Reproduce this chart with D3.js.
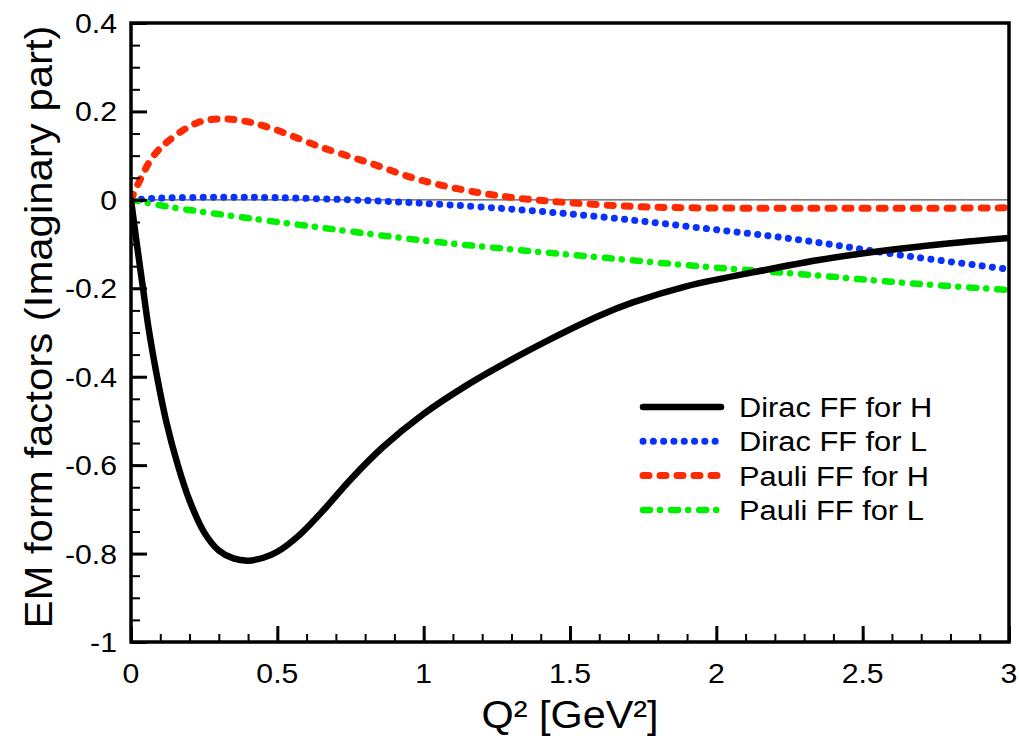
<!DOCTYPE html>
<html>
<head>
<meta charset="utf-8">
<script src="https://cdn.jsdelivr.net/npm/d3@7"></script>
<style>
  body { margin: 0; background: #fff; }
  text { font-family: "Liberation Sans", Arial, Helvetica, sans-serif; fill: #000; }
</style>
</head>
<body>
<svg id="chart" width="1019" height="739"></svg>
<script>
// values
var qDiracH = [0, 0.01, 0.02, 0.041, 0.06, 0.089, 0.12, 0.16, 0.2, 0.25, 0.30, 0.35, 0.40, 0.45, 0.50, 0.577, 0.663, 0.748, 0.861, 1.0, 1.148, 1.26, 1.43, 1.6, 1.715, 1.9, 2.125, 2.35, 2.57, 2.8, 3.0];
var diracH  = [0, -0.05, -0.10, -0.2, -0.29, -0.4, -0.5, -0.6, -0.68, -0.752, -0.793, -0.811, -0.816, -0.810, -0.796, -0.757, -0.698, -0.634, -0.559, -0.484, -0.419, -0.376, -0.316, -0.262, -0.232, -0.195, -0.164, -0.136, -0.115, -0.098, -0.086];

var qDiracL = [0, 0.1, 0.3, 0.5, 0.75, 0.919, 1.26, 1.6, 1.94, 2.29, 2.63, 3.0];
var diracL  = [0, 0.004, 0.006, 0.005, 0.0, -0.005, -0.019, -0.038, -0.063, -0.091, -0.125, -0.157];

var qPauliH = [0, 0.02, 0.075, 0.133, 0.225, 0.30, 0.38, 0.475, 0.646, 0.817, 0.977, 1.148, 1.32, 1.49, 1.715, 1.92, 2.3, 2.7, 3.0];
var pauliH  = [0, 0.03, 0.098, 0.136, 0.174, 0.183, 0.179, 0.163, 0.12, 0.083, 0.047, 0.021, 0.004, -0.006, -0.015, -0.018, -0.019, -0.019, -0.018];

var qPauliL = [0, 0.15, 0.32, 0.663, 1.0, 1.3, 1.6, 1.94, 2.29, 2.63, 3.0];
var pauliL  = [0, -0.018, -0.034, -0.064, -0.092, -0.112, -0.130, -0.150, -0.168, -0.187, -0.204];

var xTicks = [0, 0.5, 1, 1.5, 2, 2.5, 3];
var xTickLabels = ["0", "0.5", "1", "1.5", "2", "2.5", "3"];
var yTicks = [0.4, 0.2, 0, -0.2, -0.4, -0.6, -0.8, -1];
var yTickLabels = ["0.4", "0.2", "0", "-0.2", "-0.4", "-0.6", "-0.8", "-1"];
var seriesNames = ["Dirac FF for H", "Dirac FF for L", "Pauli FF for H", "Pauli FF for L"];

var svg = d3.select("#chart");
var mLeft = 131, mRight = 1009, mTop = 23, mBottom = 642;

var x = d3.scaleLinear().domain([0, 3]).range([mLeft, mRight]);
var y = d3.scaleLinear().domain([-1, 0.4]).range([mBottom, mTop]);

var styles = [
  { color: "#000000", width: 6.5, dash: null },
  { color: "#0a32ff", width: 7, dash: "0.1,10.2" },
  { color: "#ff2a00", width: 7, dash: "6,11" },
  { color: "#00f000", width: 6.5, dash: "7,10,0.1,11" }
];

var series = [
  qDiracH.map(function(q, i) { return [q, diracH[i]]; }),
  qDiracL.map(function(q, i) { return [q, diracL[i]]; }),
  qPauliH.map(function(q, i) { return [q, pauliH[i]]; }),
  qPauliL.map(function(q, i) { return [q, pauliL[i]]; })
];

svg.append("clipPath").attr("id", "clip")
  .append("rect").attr("x", mLeft).attr("y", mTop)
  .attr("width", mRight - mLeft).attr("height", mBottom - mTop);

// zero line
svg.append("line")
  .attr("x1", mLeft).attr("x2", mRight)
  .attr("y1", y(0)).attr("y2", y(0))
  .attr("stroke", "#555").attr("stroke-width", 1.2);

var line = d3.line()
  .x(function(d) { return x(d[0]); })
  .y(function(d) { return y(d[1]); })
  .curve(d3.curveCatmullRom.alpha(0.5));

// draw order: L curves under, then H
[1, 3, 2, 0].forEach(function(i) {
  var s = styles[i];
  svg.append("path")
    .datum(series[i])
    .attr("clip-path", "url(#clip)")
    .attr("d", line)
    .attr("fill", "none")
    .attr("stroke", s.color)
    .attr("stroke-width", s.width)
    .attr("stroke-linecap", "round")
    .attr("stroke-linejoin", "round")
    .attr("stroke-dasharray", s.dash);
});

// frame
svg.append("rect")
  .attr("x", mLeft).attr("y", mTop)
  .attr("width", mRight - mLeft).attr("height", mBottom - mTop)
  .attr("fill", "none").attr("stroke", "#000").attr("stroke-width", 3.5);

// text helper with slight horizontal stretch, like the reference font
function label(g, tx, ty, str, size, sx, anchor, rot) {
  return g.append("text")
    .attr("transform", "translate(" + tx + "," + ty + ")" + (rot ? " rotate(" + rot + ")" : "") + " scale(" + sx + ",1)")
    .attr("text-anchor", anchor)
    .attr("font-size", size)
    .text(str);
}

// bottom axis, ticks pointing inward
var xAxis = svg.append("g").attr("transform", "translate(0," + mBottom + ")");
xAxis.append("g").call(d3.axisTop(x).tickValues(d3.range(0, 3.01, 0.1)).tickSize(8).tickFormat(""))
  .call(function(g) { g.select(".domain").remove(); g.selectAll("line").attr("stroke-width", 2); });
xAxis.append("g").call(d3.axisTop(x).tickValues(xTicks).tickSize(16).tickFormat(""))
  .call(function(g) { g.select(".domain").remove(); g.selectAll("line").attr("stroke-width", 3); });
xTicks.forEach(function(d, i) {
  label(xAxis, x(d), 41, xTickLabels[i], 27, 1.12, "middle");
});

// left axis, ticks pointing inward
var yAxis = svg.append("g").attr("transform", "translate(" + mLeft + ",0)");
yAxis.append("g").call(d3.axisRight(y).tickValues(d3.range(-1, 0.401, 0.05)).tickSize(9).tickFormat(""))
  .call(function(g) { g.select(".domain").remove(); g.selectAll("line").attr("stroke-width", 2); });
yAxis.append("g").call(d3.axisRight(y).tickValues(yTicks).tickSize(16).tickFormat(""))
  .call(function(g) { g.select(".domain").remove(); g.selectAll("line").attr("stroke-width", 3); });
yTicks.forEach(function(d, i) {
  label(yAxis, -14, y(d) + 10, yTickLabels[i], 27, 1.12, "end");
});

// axis titles
label(svg, 570, 728, "Q² [GeV²]", 38, 1.09, "middle");
label(svg, 52, 327, "EM form factors (Imaginary part)", 39, 1.075, "middle", -90);

// legend
var legend = svg.append("g").attr("transform", "translate(640,407)");
seriesNames.forEach(function(name, i) {
  var s = styles[i];
  var row = legend.append("g").attr("transform", "translate(0," + (i * 34.3) + ")");
  row.append("line")
    .attr("x1", 3).attr("x2", 81).attr("y1", 0).attr("y2", 0)
    .attr("stroke", s.color)
    .attr("stroke-width", s.width)
    .attr("stroke-linecap", "round")
    .attr("stroke-dasharray", s.dash);
  label(row, 99, 10, name, 28, 1.1, "start");
});
</script>
</body>
</html>
